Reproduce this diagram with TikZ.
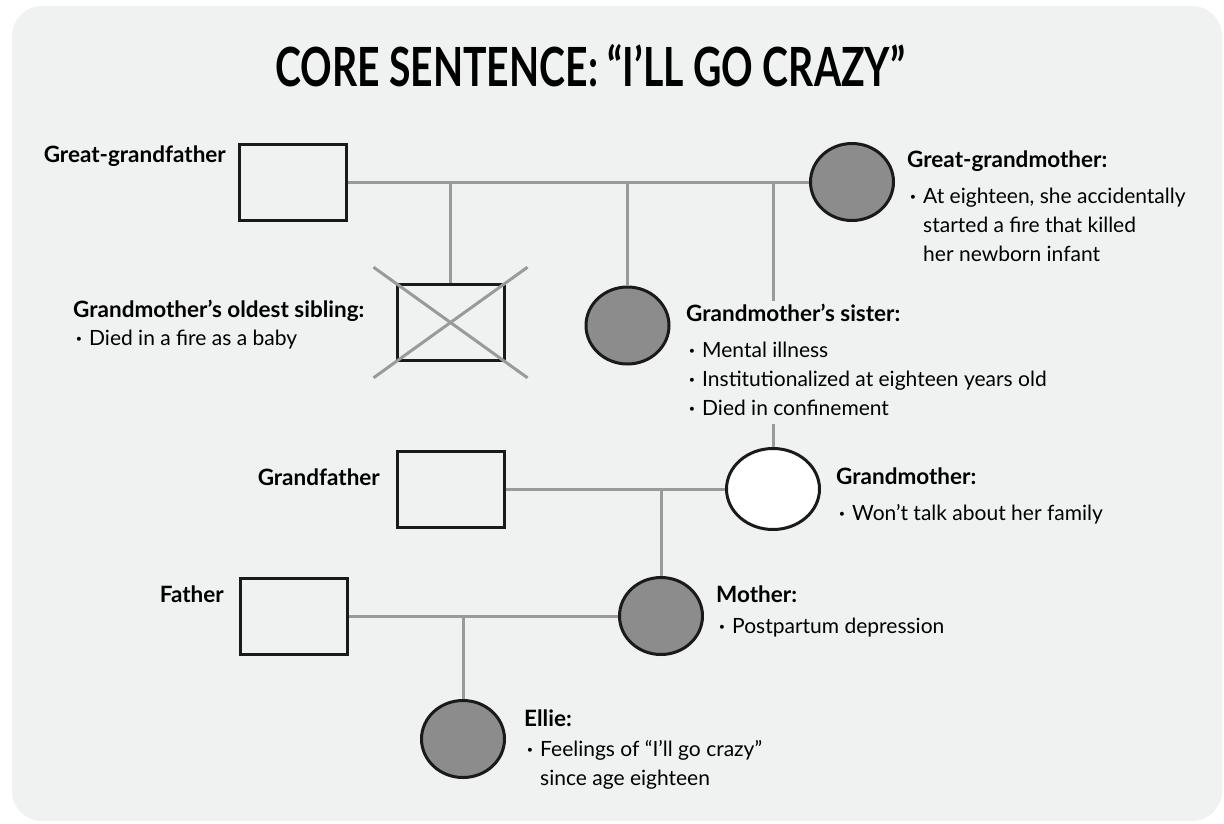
\documentclass[tikz,border=0pt]{standalone}
\usepackage{fontspec}
\setmainfont{Lato}
\usetikzlibrary{shapes.geometric,calc}
\definecolor{panel}{HTML}{F0F1F1}
\definecolor{kingray}{HTML}{9A9A9A}
\definecolor{affected}{HTML}{8C8C8C}
\definecolor{outline}{HTML}{1A1A1A}
\newcommand{\bul}{\makebox[16pt][l]{\hspace{3pt}\textbf{·}}}
\newcommand{\cont}{\hspace*{16pt}}
\newcommand{\hd}[1]{{\fontsize{22.5}{29}\selectfont\bfseries #1}}
\tikzset{
  male/.style={draw=outline, line width=3pt, rectangle, minimum width=107pt, minimum height=76pt, inner sep=0pt},
  female/.style={draw=outline, line width=3pt, ellipse, minimum width=83pt, minimum height=77pt, inner sep=0pt},
  ill/.style={fill=affected},
  kin/.style={draw=kingray, line width=3pt},
  tag/.style={font=\fontsize{22.5}{27}\selectfont\bfseries, inner sep=0pt, anchor=base east},
  note/.style={font=\fontsize{21}{29}\selectfont, inner sep=0pt, anchor=base west, fill=panel},
}
\begin{document}
\begin{tikzpicture}[x=1pt,y=-1pt]
\useasboundingbox (0,0) rectangle (1224,823);
\fill[panel, rounded corners=30pt] (12,6) rectangle (1222,821);
\node[anchor=base west, inner sep=0pt, font=\fontsize{54}{60}\selectfont\bfseries] (title) at (275,86)
  {\resizebox{630pt}{\height}{CORE SENTENCE: “I’LL GO CRAZY”}};

% people
\node[male] (ggf) at (293,182) {};
\node[female,ill] (ggm) at (852,182) {};
\node[male] (sib) at (450.5,322.5) {};
\node[female,ill] (sis) at (627.5,325.5) {};
\node[male] (gf) at (450.5,489) {};
\node[female,fill=white,minimum width=93pt,minimum height=81pt] (gm) at (773,489) {};
\node[male] (fa) at (293.5,616) {};
\node[female,ill] (mo) at (661,616) {};
\node[female,ill] (ellie) at (463,739) {};

% lines of descent
\draw[kin] (ggf.east) -- (ggm.west);
\draw[kin] (sib.north |- ggf.east) -- (sib.north);
\draw[kin] (sis.north |- ggf.east) -- (sis.north);
\draw[kin] (gm.north |- ggf.east) -- (gm.north);
\draw[kin] (gf.east) -- (gm.west);
\draw[kin] (mo.north |- gf.east) -- (mo.north);
\draw[kin] (fa.east) -- (mo.west);
\draw[kin] (ellie.north |- fa.east) -- (ellie.north);

% deceased
\draw[kin] ($(sib.north west)!-0.2!(sib.south east)$) -- ($(sib.south east)!-0.2!(sib.north west)$);
\draw[kin] ($(sib.north east)!-0.2!(sib.south west)$) -- ($(sib.south west)!-0.2!(sib.north east)$);

% names and notes
\node[tag] (ggfName) at (226,162) {Great-grandfather};
\node[tag] (gfName) at (380,485) {Grandfather};
\node[tag] (faName) at (224,602) {Father};

\node[note] (ggmNote) at (907,167) {\begin{tabular}[t]{@{}l@{}}
  \hd{Great-grandmother:}\\[7pt]
  \bul At eighteen, she accidentally\\
  \cont started a fire that killed\\
  \cont her newborn infant
\end{tabular}};
\node[note] (sibNote) at (73,317) {\begin{tabular}[t]{@{}l@{}}
  \hd{Grandmother’s oldest sibling:}\\[-1pt]
  \bul Died in a fire as a baby
\end{tabular}};
\node[note] (sisNote) at (686,321) {\begin{tabular}[t]{@{}l@{}}
  \hd{Grandmother’s sister:}\\[7pt]
  \bul Mental illness\\
  \bul Institutionalized at eighteen years old\\
  \bul Died in confinement
\end{tabular}};
\node[note] (gmNote) at (836,484) {\begin{tabular}[t]{@{}l@{}}
  \hd{Grandmother:}\\[7pt]
  \bul Won’t talk about her family
\end{tabular}};
\node[note] (moNote) at (716,602) {\begin{tabular}[t]{@{}l@{}}
  \hd{Mother:}\\[2pt]
  \bul Postpartum depression
\end{tabular}};
\node[note] (ellieNote) at (524,726) {\begin{tabular}[t]{@{}l@{}}
  \hd{Ellie:}\\[1pt]
  \bul Feelings of “I’ll go crazy”\\
  \cont since age eighteen
\end{tabular}};
\end{tikzpicture}
\end{document}
